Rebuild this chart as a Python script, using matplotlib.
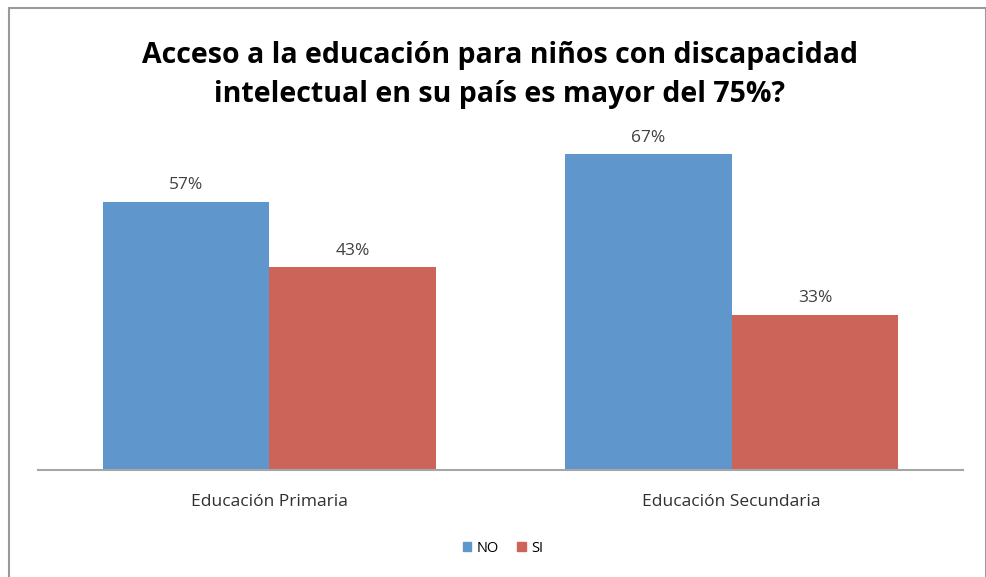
import numpy as np
import matplotlib
matplotlib.use('Agg')
import matplotlib.pyplot as plt
from matplotlib.patches import Rectangle, Patch

plt.rcParams['font.family'] = ['Open Sans', 'DejaVu Sans']

categories = ["Educación Primaria", "Educación Secundaria"]
series = ["NO", "SI"]
no_vals = [57, 67]
si_vals = [43, 33]
colors = ["#5F96CC", "#CC645A"]

W, H = 987, 577
fig = plt.figure(figsize=(W / 100, H / 100), dpi=100)

# marco gris del gráfico
fig.patches.append(Rectangle((9 / W, -0.01), (986 - 9) / W, (H - 8) / H + 0.01,
                             transform=fig.transFigure, fill=False,
                             edgecolor="#9a9a9a", linewidth=1.5))

# ejes: x 38..963, base y=470, ~4.7 px por %
ax = fig.add_axes([38 / W, (H - 470) / H, (963 - 38) / W, 80 * 4.71 / H])
ax.set_xlim(-0.5, 1.5)
ax.set_ylim(0, 80)

x = np.arange(len(categories))
bw = 0.36
bars_no = ax.bar(x - bw / 2, no_vals, bw, color=colors[0], label=series[0])
bars_si = ax.bar(x + bw / 2, si_vals, bw, color=colors[1], label=series[1])

for bars, vals in [(bars_no, no_vals), (bars_si, si_vals)]:
    for b, v in zip(bars, vals):
        ax.annotate(f"{v}%", (b.get_x() + b.get_width() / 2, v),
                    xytext=(0, 6), textcoords="offset points",
                    ha="center", va="bottom", fontsize=12.5, color="#404040")

for s in ["top", "right", "left"]:
    ax.spines[s].set_visible(False)
ax.spines["bottom"].set_color("#a6a6a6")
ax.spines["bottom"].set_linewidth(1.5)
ax.set_yticks([])
ax.set_xticks(x)
ax.set_xticklabels(categories, fontsize=12.5, color="#303030")
ax.tick_params(axis="x", length=0, pad=17)

fig.text(500 / W, 1 - 75 / H,
         "Acceso a la educación para niños con discapacidad\nintelectual en su país es mayor del 75%?",
         ha="center", va="center", fontsize=20.5, fontweight="bold",
         linespacing=1.45, color="#000000")

handles = [Patch(color=colors[0], label=series[0]),
           Patch(color=colors[1], label=series[1])]
fig.legend(handles=handles, loc="center", bbox_to_anchor=(503 / W, 1 - 548 / H),
           ncol=2, frameon=False, fontsize=10.5, handlelength=0.6, handleheight=0.6,
           handletextpad=0.4, columnspacing=1.2)

fig.savefig("out.png", dpi=100)
